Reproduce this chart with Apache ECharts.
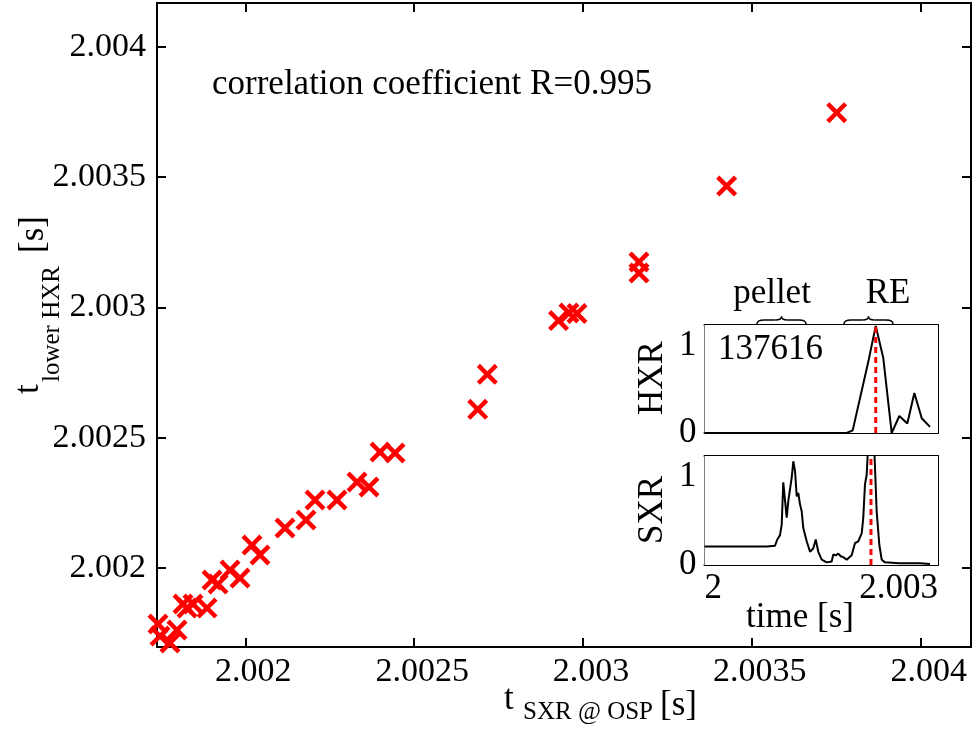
<!DOCTYPE html>
<html><head><meta charset="utf-8">
<script src="https://cdn.jsdelivr.net/npm/echarts@6/dist/echarts.min.js"></script>
<style>html,body{margin:0;padding:0;background:#fff}#c{width:975px;height:729px}</style>
</head><body><div id="c"></div>
<script>
// ---- main scatter data (seconds) ----
const tSXR = [2.0017415,2.0017474,2.0017770,2.0017977,2.0018155,2.0018274,2.0018451,2.0018866,2.0019014,2.0019192,2.0019547,2.0019843,2.0020198,2.0020435,2.0021176,2.0021797,2.0022064,2.0022715,2.0023308,2.0023663,2.0023989,2.0024433,2.0026882,2.0027166,2.0029275,2.0029585,2.0029822,2.0031658,2.0031658,2.0034255,2.0037513];
const tHXR = [2.0017852,2.0017391,2.0017123,2.0017621,2.0018619,2.0018465,2.0018619,2.0018465,2.0019540,2.0019386,2.0019923,2.0019616,2.0020882,2.0020499,2.0021535,2.0021842,2.0022609,2.0022609,2.0023299,2.0023108,2.0024450,2.0024412,2.0026089,2.0027431,2.0029495,2.0029783,2.0029764,2.0031740,2.0031318,2.0034656,2.0037468];
const mainTicks = [2.002, 2.0025, 2.003, 2.0035, 2.004];
const xRange = [2.0017385, 2.004149];
const yRange = [2.001697, 2.0041677];

// ---- inset traces, shot 137616 ----
const hxrTime = [2.0,2.0005,2.001,2.0015,2.001827,2.001904,2.002105,2.0022,2.002297,2.002405,2.002503,2.002606,2.002696,2.002791,2.002897];
const hxrVal  = [0,0,0,0,0,0.03,0.82,1.23,0.86,0,0.195,0.11,0.46,0.17,0.07];
const sxrTime = [2.0,2.0002,2.0004,2.0006,2.0008,2.000906,2.000935,2.00097,2.000992,2.001012,2.001034,2.001056,2.001077,2.001099,2.00112,2.001141,2.001163,2.001185,2.001205,2.001227,2.001249,2.001269,2.001313,2.001356,2.001398,2.001429,2.001462,2.001506,2.00157,2.001634,2.001655,2.00169,2.001719,2.00175,2.001783,2.001827,2.001891,2.001934,2.001976,2.00202,2.00204,2.002062,2.002084,2.002105,2.002178,2.002212,2.002246,2.002277,2.002319,2.0025,2.002769,2.002897];
const sxrVal  = [0.21,0.21,0.21,0.21,0.21,0.22,0.29,0.34,0.46,0.94,0.92,0.54,0.73,0.74,0.99,1.18,1.07,0.78,0.82,0.69,0.61,0.42,0.27,0.15,0.19,0.29,0.15,0.06,0.03,0.04,0.12,0.11,0.13,0.10,0.09,0.06,0.11,0.25,0.27,0.36,0.54,0.92,1.03,1.4,1.4,0.61,0.23,0.06,0.03,0.02,0.02,0.01];
const hxrRE = 2.0022;      // onset marker in HXR panel
const sxrRE = 2.002139;    // onset marker in SXR panel
const insetXRange = [2.0, 2.003];
const insetXTicks = [2.001, 2.002];
const insetXLabels = [2.0, 2.003];
const insetYRange = [0, 1.24];
const insetYTicks = [0.25, 0.5, 0.75, 1];
const insetYLabels = [0, 1];

const FONT = 'Liberation Serif';
const fmt = v => String(+(+v).toFixed(4));
const black = '#000';

function mainAxis(pos, grid, range, labels) {
  return {
    type: 'value', gridIndex: grid, position: pos, min: range[0], max: range[1],
    axisLine: { show: true, onZero: false, lineStyle: { color: black, width: 2 } },
    axisTick: { show: true, inside: true, length: 9, customValues: mainTicks, lineStyle: { color: black, width: 2 } },
    axisLabel: labels ? { show: true, customValues: mainTicks, formatter: fmt, fontFamily: FONT, fontSize: 34, color: black,
      margin: (pos === 'bottom' ? 8 : 11), padding: (pos === 'bottom' ? [0, 0, 0, 16] : 0) } : { show: false },
    splitLine: { show: false }
  };
}
function insetX(pos, grid, labels) {
  return {
    type: 'value', gridIndex: grid, position: pos, min: insetXRange[0], max: insetXRange[1],
    axisLine: { show: true, onZero: false, lineStyle: { color: black, width: 2 } },
    axisTick: { show: true, inside: true, length: 6, customValues: insetXTicks, lineStyle: { color: black, width: 1.5 } },
    axisLabel: labels ? { show: true, customValues: insetXLabels, formatter: fmt, fontFamily: FONT, fontSize: 35, color: black, margin: 6, alignMinLabel: 'left', alignMaxLabel: 'right' } : { show: false },
    splitLine: { show: false }
  };
}
function insetY(pos, grid, labels) {
  return {
    type: 'value', gridIndex: grid, position: pos, min: insetYRange[0], max: insetYRange[1],
    axisLine: { show: true, onZero: false, lineStyle: { color: black, width: 2 } },
    axisTick: { show: true, inside: true, length: 6, customValues: insetYTicks, lineStyle: { color: black, width: 1.5 } },
    axisLabel: labels ? { show: true, customValues: insetYLabels, formatter: fmt, fontFamily: FONT, fontSize: 35, color: black, margin: 8 } : { show: false },
    splitLine: { show: false }
  };
}

const crossPath = 'path://M0,1.5 L1.5,0 L5,3.5 L8.5,0 L10,1.5 L6.5,5 L10,8.5 L8.5,10 L5,6.5 L1.5,10 L0,8.5 L3.5,5 Z';

function brace(x0, x1, yTop, yMid, yEnd) {
  const xm = (x0 + x1) / 2;
  const st = { stroke: black, lineWidth: 1.5, fill: null };
  const bz = (a, b, c, d, e, f) => ({ type: 'bezierCurve', z: 10, shape: { x1: a, y1: b, cpx1: c, cpy1: d, x2: e, y2: f }, style: st });
  const ln = (a, b, c, d) => ({ type: 'line', z: 10, shape: { x1: a, y1: b, x2: c, y2: d }, style: st });
  return [
    bz(x0, yEnd, x0, yMid, x0 + 7, yMid),
    ln(x0 + 7, yMid, xm - 6, yMid),
    bz(xm - 6, yMid, xm, yMid, xm, yTop),
    bz(xm, yTop, xm, yMid, xm + 6, yMid),
    ln(xm + 6, yMid, x1 - 7, yMid),
    bz(x1 - 7, yMid, x1, yMid, x1, yEnd)
  ];
}

const redDash = { color: '#ff0000', type: [6, 4], width: 3 };

const chart = echarts.init(document.getElementById('c'), null, { renderer: 'canvas' });
chart.setOption({
  animation: false,
  backgroundColor: '#fff',
  grid: [
    { left: 157, top: 3, width: 814, height: 644, containLabel: false },
    { left: 704.5, top: 325, width: 233.5, height: 108, show: true, backgroundColor: '#fff', borderWidth: 0, z: 5 },
    { left: 704.5, top: 456, width: 233.5, height: 109, show: true, backgroundColor: '#fff', borderWidth: 0, z: 5 }
  ],
  xAxis: [
    mainAxis('bottom', 0, xRange, true),
    mainAxis('top', 0, xRange, false),
    insetX('bottom', 1, false),
    insetX('top', 1, false),
    insetX('bottom', 2, true),
    insetX('top', 2, false)
  ],
  yAxis: [
    mainAxis('left', 0, yRange, true),
    mainAxis('right', 0, yRange, false),
    insetY('left', 1, true),
    insetY('right', 1, false),
    insetY('left', 2, true),
    insetY('right', 2, false)
  ],
  series: [
    {
      type: 'scatter', xAxisIndex: 0, yAxisIndex: 0,
      data: tSXR.map((x, i) => [x, tHXR[i]]),
      symbol: crossPath, symbolSize: 21,
      itemStyle: { color: '#ff0000', opacity: 1 },
      z: 3
    },
    {
      type: 'line', xAxisIndex: 2, yAxisIndex: 2,
      data: hxrTime.map((t, i) => [t, hxrVal[i]]),
      showSymbol: false, lineStyle: { color: black, width: 2 }, z: 6
    },
    {
      type: 'line', xAxisIndex: 2, yAxisIndex: 2,
      data: [[hxrRE, insetYRange[0]], [hxrRE, insetYRange[1]]],
      showSymbol: false, lineStyle: redDash, z: 7
    },
    {
      type: 'line', xAxisIndex: 4, yAxisIndex: 4,
      data: sxrTime.map((t, i) => [t, sxrVal[i]]),
      showSymbol: false, lineStyle: { color: black, width: 2 }, z: 6
    },
    {
      type: 'line', xAxisIndex: 4, yAxisIndex: 4,
      data: [[sxrRE, insetYRange[0]], [sxrRE, insetYRange[1]]],
      showSymbol: false, lineStyle: redDash, z: 7
    }
  ],
  graphic: [
    { type: 'text', x: 212, y: 85, z: 10, style: { text: 'correlation coefficient R=0.995', font: `35px "${FONT}"`, fill: black, verticalAlign: 'middle' } },
    // x axis title
    { type: 'text', x: 504, y: 700, z: 10, style: { text: 't', font: `35px "${FONT}"`, fill: black, verticalAlign: 'middle' } },
    { type: 'text', x: 523, y: 712, z: 10, style: { text: 'SXR @ OSP', font: `25px "${FONT}"`, fill: black, verticalAlign: 'middle' } },
    { type: 'text', x: 660, y: 706, z: 10, style: { text: '[s]', font: `35px "${FONT}"`, fill: black, verticalAlign: 'middle' } },
    // y axis title (rotated)
    { type: 'group', x: 40, y: 394, rotation: Math.PI / 2, z: 10, children: [
      { type: 'text', x: 0, y: -11, style: { text: 't', font: `35px "${FONT}"`, fill: black, verticalAlign: 'middle' } },
      { type: 'text', x: 12, y: 12, style: { text: 'lower HXR', font: `25px "${FONT}"`, fill: black, verticalAlign: 'middle' } },
      { type: 'text', x: 141, y: -6, style: { text: '[s]', font: `35px "${FONT}"`, fill: black, verticalAlign: 'middle' } }
    ] },
    // inset annotations
    { type: 'text', x: 772, y: 294, z: 10, style: { text: 'pellet', font: `35px "${FONT}"`, fill: black, align: 'center', verticalAlign: 'middle' } },
    { type: 'text', x: 888, y: 294, z: 10, style: { text: 'RE', font: `35px "${FONT}"`, fill: black, align: 'center', verticalAlign: 'middle' } },
    ...brace(757, 806, 316.5, 320, 324),
    ...brace(844, 893, 316.5, 320, 324),
    { type: 'text', x: 718, y: 350, z: 10, style: { text: '137616', font: `35px "${FONT}"`, fill: black, verticalAlign: 'middle' } },
    { type: 'text', x: 653, y: 378, rotation: Math.PI / 2, z: 10, style: { text: 'HXR', font: `35px "${FONT}"`, fill: black, align: 'center', verticalAlign: 'middle' } },
    { type: 'text', x: 653, y: 510, rotation: Math.PI / 2, z: 10, style: { text: 'SXR', font: `35px "${FONT}"`, fill: black, align: 'center', verticalAlign: 'middle' } },
    { type: 'text', x: 800, y: 618, z: 10, style: { text: 'time [s]', font: `35px "${FONT}"`, fill: black, align: 'center', verticalAlign: 'middle' } }
  ]
});
</script></body></html>
